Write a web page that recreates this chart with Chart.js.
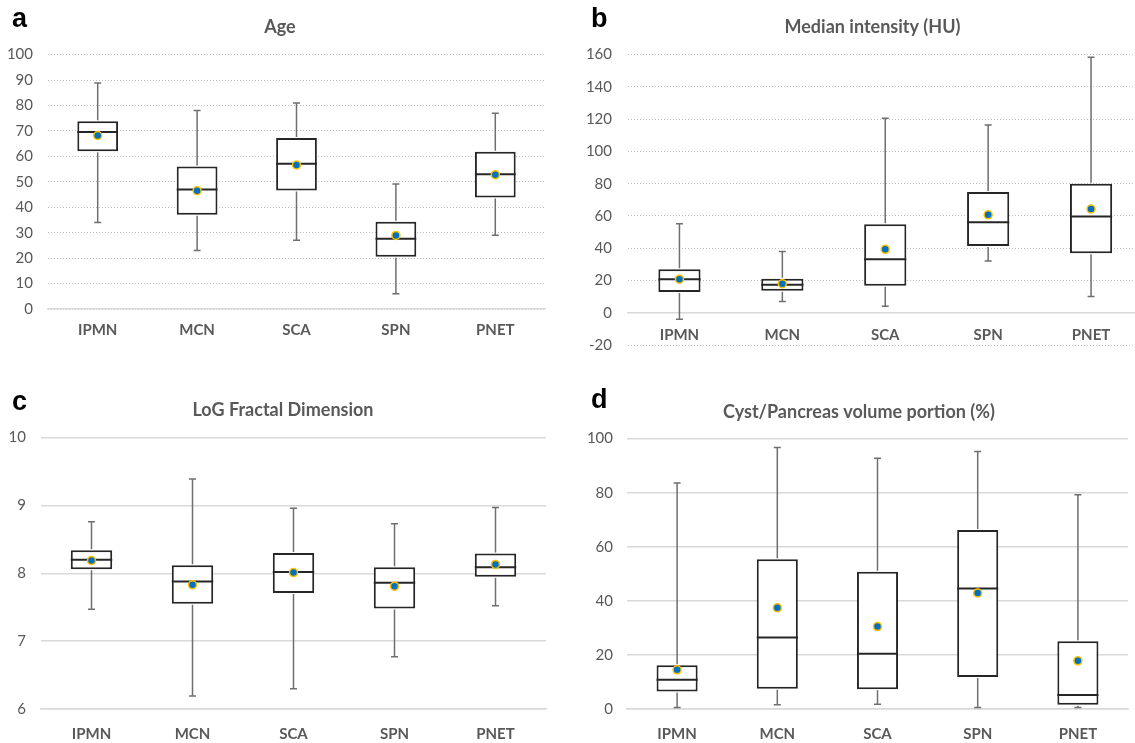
<!DOCTYPE html>
<html>
<head>
<meta charset="utf-8">
<script src="https://cdn.jsdelivr.net/npm/chart.js@4.4.1/dist/chart.umd.min.js"></script>
<style>
  html, body { margin: 0; padding: 0; background: #fff; overflow: hidden; }
  body { width: 1135px; height: 743px; position: relative; }
  .panel { position: absolute; }
  .letter { position: absolute; font-family: "Liberation Sans", Arial, sans-serif; font-weight: bold; font-size: 27px; color: #000; line-height: 1; }
</style>
</head>
<body>
<div class="panel" style="left:0;top:0"><canvas id="chartA" width="560" height="370"></canvas></div>
<div class="panel" style="left:560px;top:0"><canvas id="chartB" width="588" height="370"></canvas></div>
<div class="panel" style="left:0;top:370px"><canvas id="chartC" width="560" height="390"></canvas></div>
<div class="panel" style="left:560px;top:370px"><canvas id="chartD" width="575" height="390"></canvas></div>
<div class="letter" style="left:12px;top:5px">a</div>
<div class="letter" style="left:591px;top:5px">b</div>
<div class="letter" style="left:12px;top:388px">c</div>
<div class="letter" style="left:591px;top:386px">d</div>
<script>
const groups = ['IPMN', 'MCN', 'SCA', 'SPN', 'PNET'];

// a - Age
const ageMin = [34, 23, 27, 6, 29];
const ageQ1 = [62, 37, 46.6, 20.5, 43.8];
const ageMed = [69.6, 47, 57.1, 27.6, 53];
const ageQ3 = [73.8, 56, 67.2, 34.3, 61.8];
const ageMax = [88.8, 78, 81, 49.1, 76.9];
const ageMean = [68.2, 46.5, 56.6, 28.9, 52.8];

// b - Median intensity (HU)
const huMin = [-4, 7, 4, 32, 10];
const huQ1 = [12.9, 13.7, 16.8, 41.4, 36.9];
const huMed = [20.7, 17.4, 33.2, 56.1, 59.6];
const huQ3 = [27, 21.1, 54.9, 74.8, 79.9];
const huMax = [55.1, 37.9, 120.5, 116.4, 158.4];
const huMean = [20.8, 18, 39.3, 60.7, 64.3];

// c - LoG Fractal Dimension
const fdMin = [7.47, 6.19, 6.30, 6.77, 7.52];
const fdQ1 = [8.06, 7.55, 7.71, 7.48, 7.95];
const fdMed = [8.20, 7.88, 8.02, 7.86, 8.09];
const fdQ3 = [8.34, 8.12, 8.30, 8.09, 8.29];
const fdMax = [8.76, 9.39, 8.96, 8.73, 8.97];
const fdMean = [8.19, 7.83, 8.01, 7.81, 8.13];

// d - Cyst/Pancreas volume portion (%)
const cpMin = [0.6, 1.6, 1.8, 0.6, 0.6];
const cpQ1 = [6.5, 7.5, 7.3, 11.8, 1.6];
const cpMed = [10.8, 26.4, 20.4, 44.6, 5.2];
const cpQ3 = [16.2, 55.4, 50.8, 66.2, 25.1];
const cpMax = [83.6, 96.7, 92.7, 95.2, 79.2];
const cpMean = [14.5, 37.4, 30.5, 42.9, 17.8];

const textGray = '#595959';
const boxColor = '#262626';
const whiskerColor = '#6f6f6f';

// whiskers and median line, drawn right after the box dataset
const boxExtras = {
  id: 'boxExtras',
  afterLayout(chart) {
    // let the y tick labels use the room left of the axis box
    chart.scales.y.left = 0;
  },
  afterDatasetDraw(chart, args, opts) {
    if (args.index !== 0) return;
    const { ctx, scales: { x, y } } = chart;
    const meta = chart.getDatasetMeta(0);
    ctx.save();
    groups.forEach((g, i) => {
      const bar = meta.data[i];
      const cx = x.getPixelForValue(i);
      const half = bar.width / 2;
      const yMin = y.getPixelForValue(opts.min[i]);
      const yMax = y.getPixelForValue(opts.max[i]);
      const yQ1 = y.getPixelForValue(opts.q1[i]);
      const yQ3 = y.getPixelForValue(opts.q3[i]);
      const yMed = y.getPixelForValue(opts.med[i]);

      ctx.strokeStyle = whiskerColor;
      ctx.lineWidth = 1.5;
      ctx.beginPath();
      ctx.moveTo(cx, yQ3 - 1); ctx.lineTo(cx, yMax);
      ctx.moveTo(cx - 3.5, yMax); ctx.lineTo(cx + 3.5, yMax);
      ctx.moveTo(cx, yQ1 + 1); ctx.lineTo(cx, yMin);
      ctx.moveTo(cx - 3.5, yMin); ctx.lineTo(cx + 3.5, yMin);
      ctx.stroke();

      ctx.strokeStyle = boxColor;
      ctx.lineWidth = 2;
      ctx.beginPath();
      ctx.moveTo(cx - half, yMed); ctx.lineTo(cx + half, yMed);
      ctx.stroke();
    });
    ctx.restore();
  }
};

function makePanel(id, p) {
  const ctx = document.getElementById(id).getContext('2d');
  const dotted = p.dotted;
  return new Chart(ctx, {
    data: {
      labels: groups,
      datasets: [
        {
          type: 'bar',
          data: p.q1.map((v, i) => [v, p.q3[i]]),
          backgroundColor: '#ffffff',
          borderColor: boxColor,
          borderWidth: 2,
          borderSkipped: false,
          barPercentage: 0.41,
          categoryPercentage: 1,
          order: 1
        },
        {
          type: 'line',
          data: p.mean,
          showLine: false,
          pointRadius: 4,
          pointBackgroundColor: '#0070C0',
          pointBorderColor: '#FFC000',
          pointBorderWidth: 1.5,
          order: 0
        }
      ]
    },
    options: {
      responsive: false,
      animation: false,
      layout: { padding: p.pad },
      plugins: {
        legend: { display: false },
        tooltip: { enabled: false },
        title: {
          display: true,
          text: p.title,
          color: textGray,
          font: { family: 'Lato', size: 18, weight: 'bold' },
          padding: p.titlePad
        },
        boxExtras: { min: p.min, q1: p.q1, med: p.med, q3: p.q3, max: p.max }
      },
      scales: {
        x: {
          position: p.xPos || 'bottom',
          grid: { display: false, drawTicks: false },
          border: { display: true, color: '#d9d9d9', width: 1.5 },
          ticks: {
            color: textGray,
            padding: p.xTickPad,
            font: { family: 'Lato', size: 15, weight: 'bold' }
          }
        },
        y: {
          min: p.yMin,
          max: p.yMax,
          afterFit(scale) { scale.width = p.yWidth; },
          grid: { color: dotted ? '#bfbfbf' : '#d9d9d9', lineWidth: dotted ? 1 : 1.5, drawTicks: false },
          border: { display: false, dash: dotted ? [1, 2] : [] },
          ticks: {
            stepSize: p.step,
            color: textGray,
            padding: p.yTickPad,
            font: { family: 'Lato', size: 15 }
          }
        }
      }
    },
    plugins: [boxExtras]
  });
}

makePanel('chartA', {
  title: 'Age', min: ageMin, q1: ageQ1, med: ageMed, q3: ageQ3, max: ageMax, mean: ageMean,
  yMin: 0, yMax: 100, step: 10, dotted: true,
  pad: { left: 15, right: 15, top: 0, bottom: 19 }, titlePad: { top: 16, bottom: 17 },
  yWidth: 33, yTickPad: 15, xTickPad: 12
});

makePanel('chartB', {
  title: 'Median intensity (HU)', min: huMin, q1: huQ1, med: huMed, q3: huQ3, max: huMax, mean: huMean,
  yMin: -20, yMax: 160, step: 20, dotted: true, xPos: { y: 0 },
  pad: { left: 37, right: 0, top: 0, bottom: 19 }, titlePad: { top: 16, bottom: 17 },
  yWidth: 31, yTickPad: 16, xTickPad: 13
});

makePanel('chartC', {
  title: 'LoG Fractal Dimension', min: fdMin, q1: fdQ1, med: fdMed, q3: fdQ3, max: fdMax, mean: fdMean,
  yMin: 6, yMax: 10, step: 1, dotted: false,
  pad: { left: 20, right: 14, top: 0, bottom: 1 }, titlePad: { top: 29, bottom: 17 },
  yWidth: 21, yTickPad: 15, xTickPad: 16
});

makePanel('chartD', {
  title: 'Cyst/Pancreas volume portion (%)', min: cpMin, q1: cpQ1, med: cpMed, q3: cpQ3, max: cpMax, mean: cpMean,
  yMin: 0, yMax: 100, step: 20, dotted: false,
  pad: { left: 30, right: 7, top: 0, bottom: 1 }, titlePad: { top: 31, bottom: 16 },
  yWidth: 37, yTickPad: 14, xTickPad: 16
});
</script>
</body>
</html>
